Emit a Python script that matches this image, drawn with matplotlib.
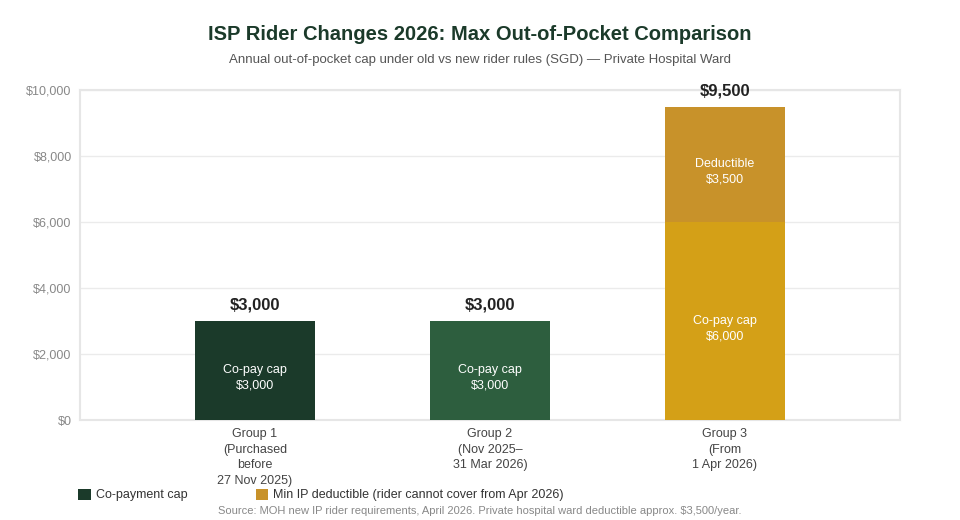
import matplotlib
matplotlib.use("Agg")
import matplotlib.pyplot as plt
from matplotlib.patches import Patch

plt.rcParams['font.family'] = ['Liberation Sans', 'DejaVu Sans']

categories = ["Group 1\n(Purchased\nbefore\n27 Nov 2025)",
              "Group 2\n(Nov 2025–\n31 Mar 2026)",
              "Group 3\n(From\n1 Apr 2026)"]
copay_cap = [3000, 3000, 6000]
deductible = [0, 0, 3500]
totals = [c + d for c, d in zip(copay_cap, deductible)]
copay_colors = ["#1B3A2A", "#2D5E3E", "#D4A017"]
deduct_color = "#C8922A"
yticks = [0, 2000, 4000, 6000, 8000, 10000]

fig = plt.figure(figsize=(9.6, 5.2), dpi=100)
ax = fig.add_axes([80/960, 1-420/520, 820/960, 330/520])

x = list(range(len(categories)))
w = 0.51
ax.bar(x, copay_cap, width=w, color=copay_colors, zorder=3)
ax.bar(x, deductible, width=w, bottom=copay_cap, color=deduct_color, zorder=3)

for i in x:
    ax.annotate(f"Co-pay cap\n${copay_cap[i]:,}", (i, copay_cap[i] / 2),
                xytext=(0, -5.5), textcoords='offset points', ha='center', va='center',
                color='white', fontsize=9, linespacing=1.4, zorder=4)
    if deductible[i] > 0:
        ax.annotate(f"Deductible\n${deductible[i]:,}", (i, copay_cap[i] + deductible[i] / 2),
                    xytext=(0, -5.5), textcoords='offset points', ha='center', va='center',
                    color='white', fontsize=9, linespacing=1.4, zorder=4)
    ax.text(i, totals[i] + 250, f"${totals[i]:,}", ha='center', va='bottom',
            fontsize=12, fontweight='bold', color='#222222', zorder=4)

ax.set_xlim(-0.745, 2.745)
ax.set_ylim(0, 10000)
ax.set_yticks(yticks)
ax.set_yticklabels([f"${v:,}" for v in yticks])
ax.set_xticks(x)
ax.set_xticklabels(categories)
ax.tick_params(axis='y', length=0, pad=6, labelsize=9, labelcolor='#888888')
ax.tick_params(axis='x', length=0, pad=6, labelsize=9, labelcolor='#444444')
for lbl in ax.get_xticklabels():
    lbl.set_linespacing(1.38)
ax.grid(axis='y', color='#EBEBEB', linewidth=1, zorder=0)
for s in ax.spines.values():
    s.set_color('#E6E6E6')
    s.set_linewidth(1.5)

fig.text(0.5, 1 - 35/520, "ISP Rider Changes 2026: Max Out-of-Pocket Comparison",
         ha='center', va='center', fontsize=14.5, fontweight='bold', color='#1B3A2A')
fig.text(0.5, 1 - 60/520, "Annual out-of-pocket cap under old vs new rider rules (SGD) — Private Hospital Ward",
         ha='center', va='center', fontsize=9.5, color='#555555')
fig.text(0.5, 1 - 511/520,
         "Source: MOH new IP rider requirements, April 2026. Private hospital ward deductible approx. $3,500/year.",
         ha='center', va='center', fontsize=8, color='#888888')

handles = [Patch(facecolor="#1B3A2A", label="Co-payment cap"),
           Patch(facecolor=deduct_color, label="Min IP deductible (rider cannot cover from Apr 2026)")]
leg = fig.legend(handles=handles, loc='center left', bbox_to_anchor=(78/960, 1 - 495/520),
                 ncol=2, frameon=False, fontsize=9, handlelength=1.0, handleheight=1.0,
                 handletextpad=0.4, columnspacing=5.5, borderaxespad=0, borderpad=0)
for t in leg.get_texts():
    t.set_color('#333333')

fig.savefig("out.png", dpi=100, facecolor='white')
